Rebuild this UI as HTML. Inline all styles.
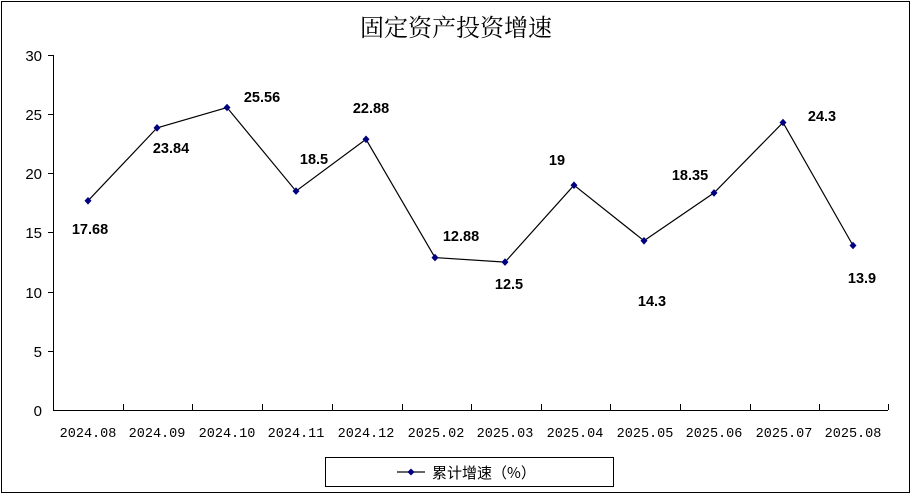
<!DOCTYPE html><html><head><meta charset="utf-8"><style>body{margin:0;background:#fff}</style></head><body>
<svg width="912" height="495" xmlns="http://www.w3.org/2000/svg" font-family="Liberation Sans, Noto Sans CJK SC, sans-serif">
<rect x="1.5" y="1.5" width="908" height="491" fill="#fff" stroke="#000"/>
<text x="456" y="36" font-size="24" text-anchor="middle" font-family="Noto Serif CJK SC, Noto Sans CJK SC, serif">固定资产投资增速</text>
<g stroke="#000" stroke-width="1">
<line x1="53.5" y1="55" x2="53.5" y2="410"/>
<line x1="53" y1="410.5" x2="888" y2="410.5"/>
<line x1="48" y1="55.5" x2="53" y2="55.5"/><line x1="48" y1="114.5" x2="53" y2="114.5"/><line x1="48" y1="173.5" x2="53" y2="173.5"/><line x1="48" y1="232.5" x2="53" y2="232.5"/><line x1="48" y1="292.5" x2="53" y2="292.5"/><line x1="48" y1="351.5" x2="53" y2="351.5"/>
<path d="M123.5 410V404M192.5 410V404M262.5 410V404M332.5 410V404M402.5 410V404M471.5 410V404M541.5 410V404M610.5 410V404M680.5 410V404M750.5 410V404M819.5 410V404M888.5 410V404"/>
</g>
<g font-size="15" text-anchor="end">
<text x="42" y="61">30</text><text x="42" y="120">25</text><text x="42" y="179">20</text><text x="42" y="238">15</text><text x="42" y="298">10</text><text x="42" y="357">5</text><text x="42" y="416">0</text>
</g>
<g font-size="13.5" text-anchor="middle" font-family="Liberation Mono, monospace">
<text x="88" y="437">2024.08</text><text x="157" y="437">2024.09</text><text x="227" y="437">2024.10</text><text x="296" y="437">2024.11</text><text x="366" y="437">2024.12</text><text x="436" y="437">2025.02</text><text x="505" y="437">2025.03</text><text x="575" y="437">2025.04</text><text x="645" y="437">2025.05</text><text x="714" y="437">2025.06</text><text x="784" y="437">2025.07</text><text x="853" y="437">2025.08</text>
</g>
<polyline fill="none" stroke="#000" stroke-width="1.2" points="88,200.8 157,127.9 227,107.5 296,191.1 366,139.3 435,257.6 505,262.1 574,185.2 644,240.8 714,192.9 783,122.5 853,245.5"/>
<g fill="#000080">
<path d="M88 197l3.5 3.8-3.5 3.8-3.5-3.8z"/><path d="M157 124l3.5 3.9-3.5 3.9-3.5-3.9z"/><path d="M227 103.7l3.5 3.8-3.5 3.8-3.5-3.8z"/><path d="M296 187.3l3.5 3.8-3.5 3.8-3.5-3.8z"/><path d="M366 135.5l3.5 3.8-3.5 3.8-3.5-3.8z"/><path d="M435 253.8l3.5 3.8-3.5 3.8-3.5-3.8z"/><path d="M505 258.3l3.5 3.8-3.5 3.8-3.5-3.8z"/><path d="M574 181.4l3.5 3.8-3.5 3.8-3.5-3.8z"/><path d="M644 237l3.5 3.8-3.5 3.8-3.5-3.8z"/><path d="M714 189.1l3.5 3.8-3.5 3.8-3.5-3.8z"/><path d="M783 118.7l3.5 3.8-3.5 3.8-3.5-3.8z"/><path d="M853 241.7l3.5 3.8-3.5 3.8-3.5-3.8z"/>
</g>
<g font-size="14.5" font-weight="bold" text-anchor="middle">
<text x="90" y="234">17.68</text><text x="171" y="153">23.84</text><text x="262" y="102">25.56</text><text x="314" y="164">18.5</text><text x="371" y="113">22.88</text><text x="461" y="241">12.88</text><text x="509" y="289">12.5</text><text x="557" y="165">19</text><text x="652" y="306">14.3</text><text x="690" y="180">18.35</text><text x="822" y="121">24.3</text><text x="862" y="283">13.9</text>
</g>
<rect x="325.5" y="457.5" width="288" height="29" fill="#fff" stroke="#000"/>
<line x1="397" y1="472" x2="425" y2="472" stroke="#333" stroke-width="1.5"/>
<path d="M411 468.5l3.5 3.5-3.5 3.5-3.5-3.5z" fill="#000080"/>
<text x="432" y="478" font-size="15" font-family="Noto Sans CJK SC, sans-serif">累计增速（%）</text>
</svg>
</body></html>
